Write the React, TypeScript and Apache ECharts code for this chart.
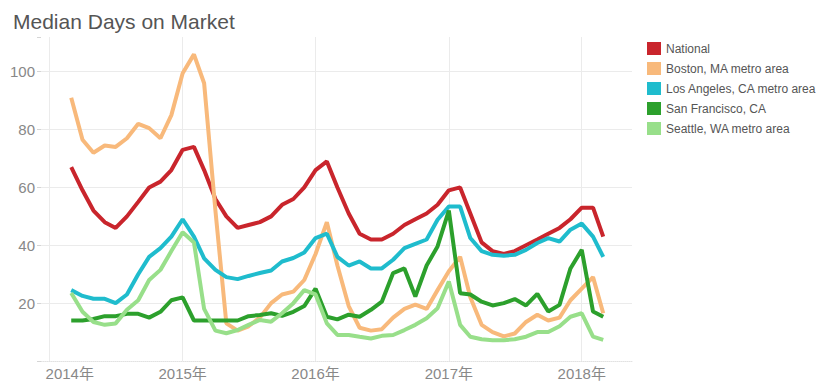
import React, { useEffect, useRef } from 'react';
import * as echarts from 'echarts';

const months = [
  '2014-03-01', '2014-04-01', '2014-05-01', '2014-06-01', '2014-07-01', '2014-08-01', '2014-09-01', '2014-10-01', '2014-11-01', '2014-12-01',
  '2015-01-01', '2015-02-01', '2015-03-01', '2015-04-01', '2015-05-01', '2015-06-01', '2015-07-01', '2015-08-01', '2015-09-01', '2015-10-01', '2015-11-01', '2015-12-01',
  '2016-01-01', '2016-02-01', '2016-03-01', '2016-04-01', '2016-05-01', '2016-06-01', '2016-07-01', '2016-08-01', '2016-09-01', '2016-10-01', '2016-11-01', '2016-12-01',
  '2017-01-01', '2017-02-01', '2017-03-01', '2017-04-01', '2017-05-01', '2017-06-01', '2017-07-01', '2017-08-01', '2017-09-01', '2017-10-01', '2017-11-01', '2017-12-01',
  '2018-01-01', '2018-02-01', '2018-03-01',
];

const national = [
  67, 59, 52, 48, 46, 50, 55, 60, 62, 66,
  73, 74, 66, 56, 50, 46, 47, 48, 50, 54, 56, 60,
  66, 69, 60, 51, 44, 42, 42, 44, 47, 49, 51, 54,
  59, 60, 51, 41, 38, 37, 38, 40, 42, 44, 46, 49,
  53, 53, 43,
];

const boston = [
  91, 76.5, 72, 74.5, 74, 77, 82, 80.5, 77, 85,
  99.5, 106, 96, 52, 13, 10.5, 12, 15, 20, 23, 24, 28,
  37, 48, 33, 19, 11.5, 10.5, 11, 15, 18, 19.5, 18, 24.5,
  31, 36, 22, 12.5, 10, 8.5, 9.5, 13.5, 16, 14, 15, 21,
  25, 29, 16.5,
];

const losAngeles = [
  24.5, 22.5, 21.5, 21.5, 20, 23, 30, 36, 39, 43,
  49, 43, 35.5, 31.5, 29, 28.3, 29.4, 30.4, 31.3, 34.4, 35.6, 37.5,
  42.5, 44, 36, 33, 34.4, 32, 32, 35, 39, 40.5, 42, 48.8,
  53.4, 53.4, 42.5, 38, 36.7, 36.4, 36.7, 38.4, 40.8, 42.5, 41.3, 45.4,
  47.5, 43, 36,
];

const sanFrancisco = [
  14, 14, 14.5, 15.5, 15.5, 16.3, 16.3, 15, 17, 21,
  22, 14, 14, 14, 14, 14, 15.5, 15.9, 16.5, 15.6, 17, 19,
  25, 15.3, 14.4, 16, 15.3, 17.7, 20.5, 30.4, 32, 22.3, 33, 39.6,
  52, 23.4, 23, 20.5, 19.2, 20, 21.4, 19.2, 23.2, 17.1, 19.4, 32,
  38.4, 17.1, 15.3,
];

const seattle = [
  23.5, 17, 13.5, 12.5, 13, 17.7, 21, 28, 31.5, 38,
  44.5, 41, 18, 10.5, 9.6, 10.7, 12.5, 14.2, 13.6, 16.5, 20, 24.5,
  23, 13, 9, 9, 8.4, 7.8, 8.7, 9, 10.7, 12.5, 14.8, 18.2,
  27.5, 12.5, 8.4, 7.5, 7.2, 7.2, 7.5, 8.4, 10, 10, 12, 15.3,
  16.5, 8.4, 7.3,
];

const seriesNames = [
  'National',
  'Boston, MA metro area',
  'Los Angeles, CA metro area',
  'San Francisco, CA',
  'Seattle, WA metro area',
];
const seriesValues = [national, boston, losAngeles, sanFrancisco, seattle];
const colors = ['#c9252c', '#f8b97b', '#1fbccd', '#2ca02c', '#98df8a'];
const yTickLabels = [20, 40, 60, 80, 100];
const firstYearLabel = 2014;

export default function App() {
  const ref = useRef<HTMLDivElement>(null);

  useEffect(() => {
    document.body.style.margin = '0';
    const chart = echarts.init(ref.current!, null, { renderer: 'svg' });
    const font = "'Liberation Sans', Arial, 'Noto Sans CJK SC', sans-serif";
    chart.setOption({
      animation: false,
      color: colors,
      title: {
        text: 'Median Days on Market',
        left: 8,
        top: 6,
        textStyle: { fontSize: 21, fontWeight: 'normal', color: '#555', fontFamily: font },
      },
      legend: {
        orient: 'vertical',
        left: 642,
        top: 37,
        itemWidth: 14,
        itemHeight: 13,
        itemGap: 7,
        icon: 'rect',
        selectedMode: false,
        data: seriesNames,
        textStyle: { fontSize: 12, color: '#555', fontFamily: font },
      },
      grid: { left: 41, right: 201, top: 37, bottom: 24 },
      xAxis: {
        type: 'time',
        min: '2013-12-08',
        max: '2018-05-19',
        minInterval: 300 * 24 * 3600 * 1000,
        axisLine: { show: true, lineStyle: { color: '#e2e2e2', type: 'dotted' } },
        axisTick: { show: false },
        splitLine: {
          show: true,
          showMinLine: false,
          showMaxLine: false,
          lineStyle: { color: '#ebebeb', width: 1 },
        },
        axisLabel: {
          fontSize: 15,
          color: '#888',
          fontFamily: font,
          margin: 5,
          hideOverlap: false,
          formatter: (val: number) => {
            const d = new Date(val);
            if (d.getMonth() !== 0 || d.getDate() !== 1) return '';
            const y = d.getFullYear();
            return y === firstYearLabel ? `{f|${y}年}` : `${y}年`;
          },
          rich: {
            f: { padding: [0, 0, 0, 40], fontSize: 15, color: '#888', fontFamily: font },
          },
        },
      },
      yAxis: {
        type: 'value',
        min: 0,
        max: 112,
        interval: 20,
        axisLine: { show: false },
        axisTick: { show: true, length: 4, lineStyle: { color: '#d5d5d5' } },
        splitLine: {
          show: true,
          showMinLine: false,
          showMaxLine: false,
          lineStyle: { color: '#ebebeb', width: 1 },
        },
        axisLabel: {
          fontSize: 15,
          color: '#888',
          fontFamily: font,
          margin: 6,
          formatter: (v: number) => (yTickLabels.includes(v) ? String(v) : ''),
        },
      },
      series: seriesValues.map((vals, i) => ({
        name: seriesNames[i],
        type: 'line',
        symbol: 'none',
        lineStyle: { width: 4, color: colors[i] },
        itemStyle: { color: colors[i] },
        data: months.map((m, j) => [m, vals[j]]),
      })),
    });
    return () => chart.dispose();
  }, []);

  return <div ref={ref} style={{ width: 833, height: 385 }} />;
}
